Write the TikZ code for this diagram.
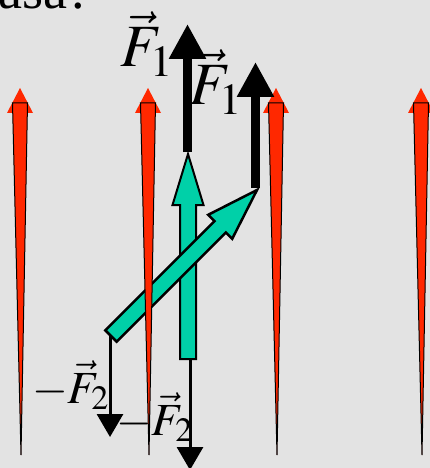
\documentclass[tikz,border=0pt]{standalone}
\usepackage{mathptmx}
\usepackage{fontspec}
\setmainfont{Liberation Serif}
\usetikzlibrary{arrows.meta}
\definecolor{bggray}{RGB}{227,227,227}
\definecolor{forcered}{RGB}{255,40,0}
\definecolor{forceteal}{RGB}{0,208,168}

\begin{document}
\begin{tikzpicture}[x=1pt, y=-1pt,
  redbody/.style={fill=forcered, draw=black, line width=1pt},
  redhead/.style={fill=forcered},
  tealarrow/.style={fill=forceteal, draw=black, line width=2pt},
  bigforce/.style={line width=9pt, -{Triangle[length=35pt,width=35pt]}},
  thinforce/.style={line width=3pt, -{Triangle[length=23pt,width=26pt]}},
  bigvec/.style={font=\fontsize{60}{66}\selectfont, inner sep=0pt, anchor=base west},
  smallvec/.style={font=\fontsize{46}{52}\selectfont, inner sep=0pt, anchor=base west}]

% Background
\fill[bggray] (0,0) rectangle (430,468);
\useasboundingbox (0,0) rectangle (430,468);

% Title (cut off at the top)
\node[font=\fontsize{54}{60}\selectfont, inner sep=0pt, anchor=base west] (title) at (-2,9) {asa?};

% Points of the forces
\coordinate (vtail) at (190,359);
\coordinate (vtip) at (190,470);
\coordinate (dtail) at (110,335);
\coordinate (dtip) at (110,437);
\coordinate (fa) at (187.5,152);
\coordinate (fatip) at (187.5,24);
\coordinate (fb) at (255.5,188);
\coordinate (fbtip) at (255.5,62);

% Teal arrows
\draw[tealarrow] (180,359) -- (180,205) -- (172.5,205) -- (188,154) -- (203.5,205)
  -- (196,205) -- (196,359) -- cycle;
\draw[tealarrow, line width=2.5pt] (105.3,330.3) -- (214.5,221.1) -- (208.2,214.8) -- (257,190)
  -- (232.2,238.8) -- (225.9,232.5) -- (116.7,341.7) -- cycle;

% Red arrows
\foreach \x in {20,148,276,421} {
  \fill[redhead] (\x-13,113) -- (\x,88) -- (\x+13,113) -- cycle;
  \draw[redbody] (\x-7.5,103) -- (\x+7.5,103) -- (\x+1,455) -- cycle;
}

% Forces F1
\draw[bigforce] (fa) -- (fatip);
\draw[bigforce] (fb) -- (fbtip);

% Forces -F2
\draw[thinforce] (dtail) -- (dtip);
\draw[thinforce] (vtail) -- (vtip);

% Labels
\node[bigvec] (fa label) at (120,67) {$\vec{F}_1$};
\node[bigvec] (fb label) at (189,105) {$\vec{F}_1$};
\node[smallvec] (fc label) at (32,403) {$-\vec{F}_2$};
\node[smallvec] (fd label) at (116,435) {$-\vec{F}_2$};

\end{tikzpicture}
\end{document}
